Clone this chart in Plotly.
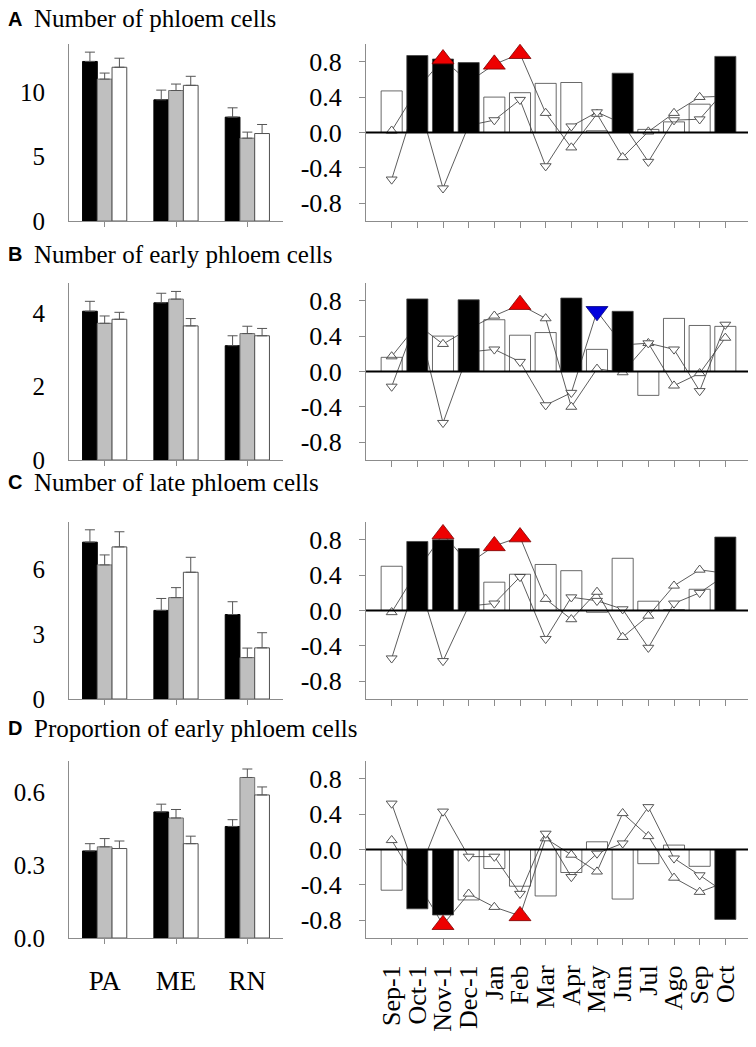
import plotly.graph_objects as go

# ---------------------------------------------------------------------------
# Data
# ---------------------------------------------------------------------------

SITES = ["PA", "ME", "RN"]
MONTHS = ["Sep-1", "Oct-1", "Nov-1", "Dec-1", "Jan", "Feb", "Mar",
          "Apr", "May", "Jun", "Jul", "Ago", "Sep", "Oct"]

PANEL_LETTERS = ["A", "B", "C", "D"]
PANEL_TITLES = [
    "Number of phloem cells",
    "Number of early phloem cells",
    "Number of late phloem cells",
    "Proportion of early phloem cells",
]

# left column: site means (+ SE) for three groups (black, grey, white bars)
A_BLACK = [12.35, 9.38, 8.04]
A_GREY = [10.98, 10.1, 6.41]
A_WHITE = [11.9, 10.5, 6.77]
A_BLACK_SE = [0.72, 0.75, 0.72]
A_GREY_SE = [0.47, 0.5, 0.47]
A_WHITE_SE = [0.7, 0.7, 0.7]

B_BLACK = [4.06, 4.29, 3.12]
B_GREY = [3.73, 4.39, 3.45]
B_WHITE = [3.84, 3.66, 3.39]
B_BLACK_SE = [0.27, 0.26, 0.27]
B_GREY_SE = [0.2, 0.21, 0.2]
B_WHITE_SE = [0.19, 0.2, 0.2]

C_BLACK = [7.24, 4.09, 3.90]
C_GREY = [6.19, 4.68, 1.91]
C_WHITE = [7.02, 5.85, 2.36]
C_BLACK_SE = [0.57, 0.55, 0.59]
C_GREY_SE = [0.46, 0.46, 0.44]
C_WHITE_SE = [0.70, 0.69, 0.70]

D_BLACK = [0.359, 0.52, 0.46]
D_GREY = [0.376, 0.495, 0.662]
D_WHITE = [0.369, 0.389, 0.59]
D_BLACK_SE = [0.03, 0.032, 0.028]
D_GREY_SE = [0.034, 0.035, 0.035]
D_WHITE_SE = [0.031, 0.031, 0.033]

LEFT_TICKS = [[0, 5, 10], [0, 2, 4], [0, 3, 6], [0.0, 0.3, 0.6]]
LEFT_TICKTEXT = [["0", "5", "10"], ["0", "2", "4"], ["0", "3", "6"], ["0.0", "0.3", "0.6"]]
LEFT_MAX = [13.7, 4.83, 8.17, 0.73]

# right column: monthly correlations (bars) and two series (up / down triangles)
A_CORR = [0.47, 0.87, 0.83, 0.79, 0.40, 0.45, 0.555, 0.565, 0.02, 0.67, 0.035, 0.12, 0.32, 0.86]
A_CORR_SIG = [0, 1, 1, 1, 0, 0, 0, 0, 0, 1, 0, 0, 0, 1]
A_UP = [0.02, 0.49, 0.83, 0.57, 0.77, 0.89, 0.22, -0.17, 0.21, -0.28, 0.01, 0.22, 0.40, 0.41]
A_DOWN = [-0.53, 0.40, -0.63, 0.08, 0.14, 0.37, -0.38, 0.07, 0.23, 0.10, -0.33, 0.14, 0.15, 0.48]
A_UP_SIG = [2, 4, 5]
A_DOWN_SIG = []

B_CORR = [0.16, 0.82, 0.40, 0.81, 0.585, 0.41, 0.44, 0.83, 0.25, 0.68, -0.27, 0.60, 0.52, 0.51]
B_CORR_SIG = [0, 1, 0, 1, 0, 0, 0, 1, 0, 1, 0, 0, 0, 0]
B_UP = [0.17, 0.53, 0.31, 0.48, 0.63, 0.755, 0.60, -0.40, 0.03, -0.01, 0.32, -0.16, -0.02, 0.38]
B_DOWN = [-0.17, 0.60, -0.58, 0.22, 0.25, 0.11, -0.38, -0.24, 0.68, 0.30, 0.32, 0.25, -0.22, 0.53]
B_UP_SIG = [5]
B_DOWN_SIG = [8]

C_CORR = [0.50, 0.78, 0.80, 0.70, 0.32, 0.41, 0.52, 0.45, -0.02, 0.59, 0.105, 0.01, 0.24, 0.83]
C_CORR_SIG = [0, 1, 1, 1, 0, 0, 0, 0, 0, 0, 0, 0, 0, 1]
C_UP = [-0.02, 0.45, 0.865, 0.53, 0.73, 0.83, 0.13, -0.10, 0.21, -0.30, -0.06, 0.28, 0.46, 0.42]
C_DOWN = [-0.54, 0.38, -0.57, 0.05, 0.08, 0.38, -0.32, 0.15, 0.11, 0.015, -0.42, 0.08, 0.20, 0.40]
C_UP_SIG = [2, 4, 5]
C_DOWN_SIG = []

D_CORR = [-0.46, -0.67, -0.74, -0.57, -0.215, -0.415, -0.525, -0.26, 0.087, -0.56, -0.16, 0.05, -0.19, -0.79]
D_CORR_SIG = [0, 1, 1, 0, 0, 0, 0, 0, 0, 0, 0, 0, 0, 1]
D_UP = [0.105, -0.38, -0.85, -0.50, -0.65, -0.75, 0.125, -0.06, -0.25, 0.41, 0.15, -0.32, -0.48, -0.37]
D_DOWN = [0.52, -0.30, 0.43, -0.08, -0.08, -0.50, 0.18, -0.31, -0.045, 0.07, 0.48, -0.10, -0.29, -0.49]
D_UP_SIG = [2, 5]
D_DOWN_SIG = []

CORR_TICKS = [-0.8, -0.4, 0.0, 0.4, 0.8]
CORR_TICKTEXT = ["-0.8", "-0.4", "0.0", "0.4", "0.8"]

# ---------------------------------------------------------------------------
# Layout helpers (pixel geometry of the 756x1047 page)
# ---------------------------------------------------------------------------

PAGE_W, PAGE_H = 756, 1047
BODY = 8  # default page margin around the plot div
W, H = PAGE_W - BODY, PAGE_H - BODY
SERIF = "Liberation Serif, Times New Roman, serif"
SANS = "Liberation Sans, Arial, sans-serif"
AXIS_GREY = "#8c8c8c"

ROW_TOP = [44, 283, 522, 761]
ROW_H = 177
TITLE_Y = [19, 254, 482, 728]
LEFT_X = (69, 283)
RIGHT_X = (366, 751)


def fx(px):
    return (px - BODY) / W


def fy(px):
    return 1 - (px - BODY) / H


def ax(n):
    return "" if n == 1 else str(n)


left_sets = [
    (A_BLACK, A_GREY, A_WHITE, A_BLACK_SE, A_GREY_SE, A_WHITE_SE),
    (B_BLACK, B_GREY, B_WHITE, B_BLACK_SE, B_GREY_SE, B_WHITE_SE),
    (C_BLACK, C_GREY, C_WHITE, C_BLACK_SE, C_GREY_SE, C_WHITE_SE),
    (D_BLACK, D_GREY, D_WHITE, D_BLACK_SE, D_GREY_SE, D_WHITE_SE),
]
right_sets = [
    (A_CORR, A_CORR_SIG, A_UP, A_DOWN, A_UP_SIG, A_DOWN_SIG),
    (B_CORR, B_CORR_SIG, B_UP, B_DOWN, B_UP_SIG, B_DOWN_SIG),
    (C_CORR, C_CORR_SIG, C_UP, C_DOWN, C_UP_SIG, C_DOWN_SIG),
    (D_CORR, D_CORR_SIG, D_UP, D_DOWN, D_UP_SIG, D_DOWN_SIG),
]

bar_styles = [("#000000", "#000000"), ("#bfbfbf", "#707070"), ("#ffffff", "#505050")]

fig = go.Figure()
layout = {}
shapes = []
annotations = []

for i in range(4):
    top, bottom = ROW_TOP[i], ROW_TOP[i] + ROW_H
    ydom = [fy(bottom), fy(top)]
    nl, nb, no = i + 1, i + 5, i + 9
    last = i == 3

    # --- left: grouped bars with one-sided error bars ---
    means = left_sets[i][:3]
    errs = left_sets[i][3:]
    for (fill, edge), m, e in zip(bar_styles, means, errs):
        fig.add_trace(go.Bar(
            x=SITES, y=m,
            xaxis="x" + ax(nl), yaxis="y" + ax(nl),
            marker=dict(color=fill, line=dict(color=edge, width=1)),
            error_y=dict(type="data", symmetric=False, array=e,
                         arrayminus=[0] * len(e), color="#555555",
                         thickness=1, width=5),
            showlegend=False,
        ))
    layout["xaxis" + ax(nl)] = dict(
        domain=[fx(LEFT_X[0]), fx(LEFT_X[1])], anchor="y" + ax(nl),
        type="category", categoryarray=SITES, range=[-0.5, 2.5],
        showline=True, linecolor=AXIS_GREY, linewidth=1,
        ticks="outside", ticklen=5, tickcolor=AXIS_GREY,
        showticklabels=last, ticklabelstandoff=14,
        tickfont=dict(family=SERIF, size=27, color="black"),
        showgrid=False, zeroline=False, automargin=False,
    )
    layout["yaxis" + ax(nl)] = dict(
        domain=ydom, anchor="x" + ax(nl), range=[0, LEFT_MAX[i]],
        tickvals=LEFT_TICKS[i], ticktext=LEFT_TICKTEXT[i],
        showline=True, linecolor=AXIS_GREY, linewidth=1, ticks="",
        ticklabelstandoff=18,
        tickfont=dict(family=SERIF, size=25, color="black"),
        showgrid=False, zeroline=False, automargin=False,
    )

    # --- right: lines underneath, bars + significant markers on top ---
    corr, sig, up, down, up_sig, down_sig = right_sets[i]
    for vals, sym in ((up, "triangle-up"), (down, "triangle-down")):
        fig.add_trace(go.Scatter(
            x=MONTHS, y=vals, mode="lines+markers",
            xaxis="x" + ax(nb), yaxis="y" + ax(nb),
            line=dict(color="#333333", width=0.8),
            marker=dict(symbol=sym, size=9.5, color="white",
                        line=dict(color="#555555", width=1)),
            showlegend=False,
        ))
    fig.add_trace(go.Bar(
        x=MONTHS, y=corr, width=0.82,
        xaxis="x" + ax(no), yaxis="y" + ax(no),
        marker=dict(color=["#000000" if s else "rgba(255,255,255,0)" for s in sig],
                    line=dict(color="#444444", width=0.8)),
        showlegend=False,
    ))
    if up_sig:
        fig.add_trace(go.Scatter(
            x=[MONTHS[k] for k in up_sig], y=[up[k] for k in up_sig],
            mode="markers", xaxis="x" + ax(no), yaxis="y" + ax(no),
            marker=dict(symbol="triangle-up", size=19, color="#ee0000",
                        line=dict(color="#7a0000", width=0.8)),
            showlegend=False,
        ))
    if down_sig:
        fig.add_trace(go.Scatter(
            x=[MONTHS[k] for k in down_sig], y=[down[k] for k in down_sig],
            mode="markers", xaxis="x" + ax(no), yaxis="y" + ax(no),
            marker=dict(symbol="triangle-down", size=19, color="#0000dd",
                        line=dict(color="#00007a", width=0.8)),
            showlegend=False,
        ))

    layout["xaxis" + ax(nb)] = dict(
        domain=[fx(RIGHT_X[0]), fx(RIGHT_X[1])], anchor="y" + ax(nb),
        type="category", categoryarray=MONTHS, range=[-1, 14],
        tickmode="array", tickvals=MONTHS, ticktext=MONTHS,
        showline=True, linecolor=AXIS_GREY, linewidth=1,
        ticks="outside", ticklen=6, tickcolor=AXIS_GREY,
        showticklabels=last, tickangle=-90, ticklabelstandoff=10,
        tickfont=dict(family=SERIF, size=26, color="black"),
        showgrid=False, zeroline=False, automargin=False,
    )
    layout["yaxis" + ax(nb)] = dict(
        domain=ydom, anchor="x" + ax(nb), range=[-1, 1],
        tickvals=CORR_TICKS, ticktext=CORR_TICKTEXT,
        showline=True, linecolor=AXIS_GREY, linewidth=1,
        ticks="outside", ticklen=6, tickcolor=AXIS_GREY,
        ticklabelstandoff=12,
        tickfont=dict(family=SERIF, size=26, color="black"),
        showgrid=False, zeroline=False, automargin=False,
    )
    layout["xaxis" + ax(no)] = dict(
        overlaying="x" + ax(nb), anchor="y" + ax(no),
        type="category", categoryarray=MONTHS, range=[-1, 14],
        visible=False, automargin=False,
    )
    layout["yaxis" + ax(no)] = dict(
        overlaying="y" + ax(nb), anchor="x" + ax(no), range=[-1, 1],
        visible=False, automargin=False,
    )

    shapes.append(dict(
        type="line", xref="x" + ax(nb) + " domain", x0=0, x1=1,
        yref="y" + ax(nb), y0=0, y1=0,
        line=dict(color="black", width=2), layer="above",
    ))

    annotations.append(dict(
        text="<b>" + PANEL_LETTERS[i] + "</b>", xref="paper", yref="paper",
        x=fx(6), y=fy(TITLE_Y[i]), xanchor="left", yanchor="middle",
        showarrow=False, font=dict(family=SANS, size=20, color="black"),
    ))
    annotations.append(dict(
        text=PANEL_TITLES[i], xref="paper", yref="paper",
        x=fx(32), y=fy(TITLE_Y[i]), xanchor="left", yanchor="middle",
        showarrow=False, font=dict(family=SERIF, size=25, color="black"),
    ))

fig.update_layout(
    width=W, height=H,
    margin=dict(l=0, r=0, t=0, b=0, autoexpand=False),
    plot_bgcolor="white", paper_bgcolor="white",
    barmode="group", bargap=0.38, bargroupgap=0,
    showlegend=False,
    shapes=shapes, annotations=annotations,
    **layout,
)

fig.write_html("out.html")
